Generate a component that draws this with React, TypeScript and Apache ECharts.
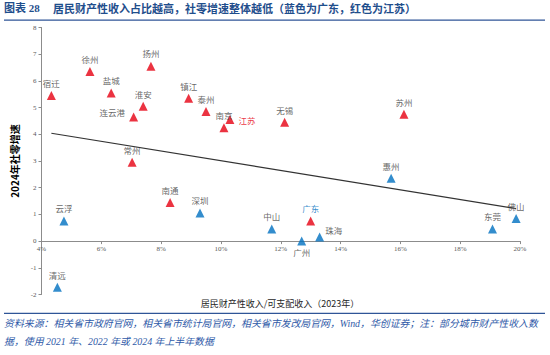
import React, { useEffect, useRef } from "react";
import * as echarts from "echarts";

const redNames = ["宿迁", "徐州", "扬州", "盐城", "淮安", "连云港", "镇江", "泰州", "南京", "江苏", "无锡", "常州", "苏州", "南通", "广东"];
const redX = [4.33, 5.62, 7.66, 6.33, 7.4, 7.08, 8.92, 9.5, 10.1, 10.3, 12.13, 7.03, 16.12, 8.3, 13.0];
const redY = [5.45, 6.35, 6.55, 5.55, 5.05, 4.65, 5.35, 4.85, 4.25, 4.55, 4.45, 2.95, 4.75, 1.45, 0.75];

const blueNames = ["云浮", "清远", "深圳", "中山", "广州", "珠海", "惠州", "东莞", "佛山"];
const blueX = [4.75, 4.53, 9.3, 11.7, 12.7, 13.3, 15.69, 19.08, 19.87];
const blueY = [0.75, -1.73, 1.05, 0.45, 0, 0.15, 2.35, 0.45, 0.85];

const trendX = [4.33, 19.87];
const trendY = [4.04, 1.22];

const xTicks = { min: 4, max: 20, interval: 2 };
const yTicks = { min: -2, max: 8, interval: 1 };

const RED = "#e60012";
const BLUE = "#0070c0";
const LABEL_GRAY = "#404040";
const CJK = "'Noto Sans CJK SC', sans-serif";
const SERIF = "'Liberation Serif', 'Noto Sans CJK SC', serif";

const GRID_TOP = 27.5;
const GRID_BOTTOM_Y = 294.5;

const labelOverrides: Record<string, any> = {
  江苏: { position: "right", distance: 4, color: RED },
  广东: { color: BLUE },
  连云港: { position: "left", distance: 4, offset: [0, -5] },
  珠海: { position: "right", distance: 1, offset: [0, -7] },
  广州: { position: "bottom", distance: 2 },
};

function buildData(names: string[], xs: number[], ys: number[]) {
  return names.map((n, i) => {
    const item: any = { name: n, value: [xs[i], ys[i]] };
    if (labelOverrides[n]) item.label = labelOverrides[n];
    return item;
  });
}

export default function App() {
  const ref = useRef<HTMLDivElement>(null);
  useEffect(() => {
    if (!ref.current) return;
    const chart = echarts.init(ref.current, null, { renderer: "svg" });
    const plotH = GRID_BOTTOM_Y - GRID_TOP;
    const zeroOffset = -((0 - yTicks.min) / (yTicks.max - yTicks.min)) * plotH;
    const labelBase = {
      show: true,
      formatter: "{b}",
      position: "top",
      distance: 4,
      fontSize: 8.5,
      color: LABEL_GRAY,
      fontFamily: CJK,
    };
    chart.setOption({
      animation: false,
      backgroundColor: "#ffffff",
      grid: { left: 41.5, right: 30, top: GRID_TOP, bottom: 355 - GRID_BOTTOM_Y, containLabel: false },
      xAxis: {
        type: "value",
        min: xTicks.min,
        max: xTicks.max,
        interval: xTicks.interval,
        offset: zeroOffset,
        axisLine: { onZero: false, lineStyle: { color: "#8c8c8c", width: 1 } },
        axisTick: { show: true, length: 3, lineStyle: { color: "#8c8c8c" } },
        axisLabel: { formatter: "{value}%", fontSize: 7, color: "#595959", fontFamily: SERIF, margin: 4 },
        splitLine: { show: false },
      },
      yAxis: {
        type: "value",
        min: yTicks.min,
        max: yTicks.max,
        interval: yTicks.interval,
        name: "2024年社零增速",
        nameLocation: "middle",
        nameGap: 6,
        nameTextStyle: { fontSize: 10, fontWeight: "bold", color: "#000", fontFamily: CJK },
        axisLine: { show: true, lineStyle: { color: "#8c8c8c", width: 1 } },
        axisTick: { show: true, length: 3, lineStyle: { color: "#8c8c8c" } },
        axisLabel: { fontSize: 7, color: "#595959", fontFamily: SERIF, margin: 5 },
        splitLine: { show: false },
      },
      series: [
        {
          type: "line",
          data: trendX.map((x, i) => [x, trendY[i]]),
          showSymbol: false,
          symbol: "none",
          lineStyle: { color: "#333333", width: 1.2 },
          z: 1,
          silent: true,
        },
        {
          type: "scatter",
          symbol: "triangle",
          symbolSize: 9,
          itemStyle: { color: RED },
          label: labelBase,
          data: buildData(redNames, redX, redY),
          z: 3,
        },
        {
          type: "scatter",
          symbol: "triangle",
          symbolSize: 9,
          itemStyle: { color: BLUE },
          label: labelBase,
          data: buildData(blueNames, blueX, blueY),
          z: 3,
        },
      ],
      graphic: [
        {
          type: "text",
          left: 4,
          top: 2,
          style: {
            text: "图表 28",
            fontSize: 11,
            fontWeight: "bold",
            fill: "#1f4e8c",
            fontFamily: SERIF,
          },
        },
        {
          type: "text",
          left: 53,
          top: 2,
          style: {
            text: "居民财产性收入占比越高，社零增速整体越低（蓝色为广东，红色为江苏）",
            fontSize: 11,
            fontWeight: "bold",
            fill: "#1f4e8c",
            fontFamily: CJK,
          },
        },
        {
          type: "rect",
          shape: { x: 4, y: 19.5, width: 541, height: 1.2 },
          style: { fill: "#2f5597" },
        },
        {
          type: "text",
          x: 280,
          y: 303,
          style: {
            text: "居民财产性收入/可支配收入（2023年）",
            fontSize: 9,
            fill: "#262626",
            fontFamily: CJK,
            align: "center",
            verticalAlign: "middle",
          },
        },
        {
          type: "rect",
          shape: { x: 4, y: 312.8, width: 541, height: 1.2 },
          style: { fill: "#2f5597" },
        },
        {
          type: "text",
          x: 4,
          y: 323.5,
          style: {
            text: "资料来源：相关省市政府官网，相关省市统计局官网，相关省市发改局官网，Wind，华创证券；注：部分城市财产性收入数",
            fontSize: 9.9,
            fontStyle: "italic",
            fill: "#2f5aa8",
            fontFamily: SERIF,
            verticalAlign: "middle",
          },
        },
        {
          type: "text",
          x: 4,
          y: 341,
          style: {
            text: "据，使用 2021 年、2022 年或 2024 年上半年数据",
            fontSize: 9.9,
            fontStyle: "italic",
            fill: "#2f5aa8",
            fontFamily: SERIF,
            verticalAlign: "middle",
          },
        },
      ],
    });
    return () => chart.dispose();
  }, []);
  return (
    <div
      ref={ref}
      style={{ position: "fixed", left: 0, top: 0, width: 550, height: 355, background: "#fff" }}
    />
  );
}
